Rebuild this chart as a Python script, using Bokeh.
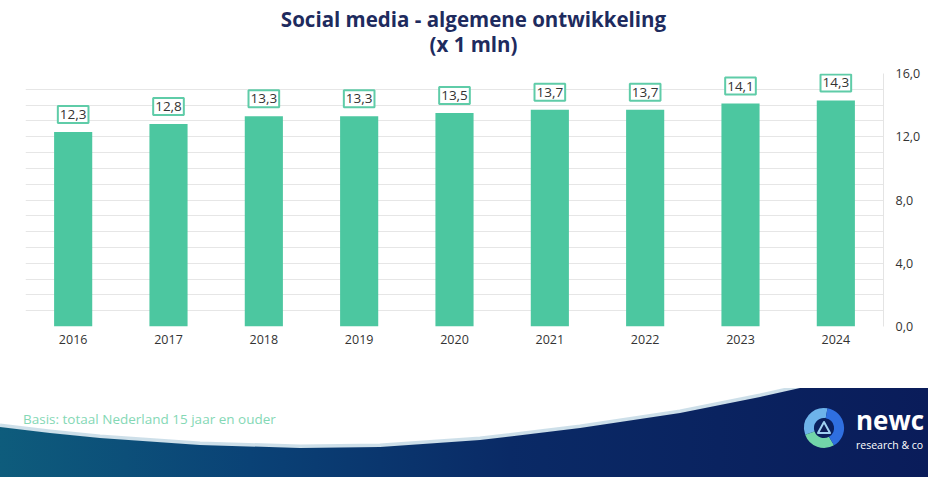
import math
from bokeh.plotting import figure
from bokeh.layouts import column
from bokeh.models import ColumnDataSource, FixedTicker, LinearAxis, Range1d, FactorRange, Div
from bokeh.core.properties import value
from bokeh.embed import file_html
from bokeh.resources import INLINE

# ---- data ----
years = ["2016", "2017", "2018", "2019", "2020", "2021", "2022", "2023", "2024"]
users_mln = [12.3, 12.8, 13.3, 13.3, 13.5, 13.7, 13.7, 14.1, 14.3]
y_ticks = [0, 4, 8, 12, 16]
y_tick_labels = ["0,0", "4,0", "8,0", "12,0", "16,0"]
title_lines = ["Social media - algemene ontwikkeling", "(x 1 mln)"]
footnote = "Basis: totaal Nederland 15 jaar en ouder"

FONT = "Open Sans"
GREEN = "#4cc7a0"
NAVY = "#1e2b5e"
W = 928
BL, BR = 25, 45  # side borders of the chart frame

# ---- header with title (frame aligned with chart frame) ----
hdr = figure(width=W, height=60, x_range=Range1d(BL, W - BR), y_range=Range1d(60, 0),
             output_backend="svg", toolbar_location=None, min_border_left=BL,
             min_border_right=BR, min_border_top=0, min_border_bottom=0,
             x_axis_location=None, y_axis_location=None)
hdr.outline_line_color = None
hdr.grid.grid_line_color = None
hdr.text(x=[473, 473], y=[18, 43], text=title_lines, text_font=value(FONT),
         text_font_size="20.5px", text_font_style="bold", text_color=NAVY,
         text_align="center", text_baseline="middle")

# ---- main chart ----
src = ColumnDataSource(dict(
    year=years, val=users_mln,
    lab=[f"{v:.1f}".replace(".", ",") for v in users_mln],
))

p = figure(width=W, height=328, x_range=FactorRange(*years, range_padding=0),
           y_range=Range1d(0, 16), output_backend="svg", toolbar_location=None,
           min_border_left=BL, min_border_right=BR, min_border_top=13,
           min_border_bottom=62, y_axis_location=None)
p.outline_line_color = None

p.xgrid.grid_line_color = None
p.ygrid.ticker = FixedTicker(ticks=list(range(0, 17)))
p.ygrid.grid_line_color = "#e6e6e6"
p.ygrid.grid_line_width = 1

p.vbar(x="year", top="val", width=0.4, source=src, color=GREEN, line_color=None)

p.text(x="year", y="val", text="lab", source=src, y_offset=-9,
       text_align="center", text_baseline="bottom",
       text_font=value(FONT), text_font_size="13.5px", text_color="#333333",
       background_fill_color="white", border_line_color="#5fcca8",
       border_line_width=2, padding=(2, 4))

ax = LinearAxis(ticker=FixedTicker(ticks=y_ticks),
                major_label_overrides={t_: l for t_, l in zip(y_ticks, y_tick_labels)})
ax.axis_line_color = "#e4e4e4"
ax.major_tick_line_color = None
ax.minor_tick_line_color = None
ax.major_tick_out = 0
ax.major_tick_in = 0
ax.major_label_standoff = 12
ax.major_label_text_font = FONT
ax.major_label_text_font_size = "12.5px"
ax.major_label_text_color = "#333333"
p.add_layout(ax, "right")

p.xaxis.axis_line_color = None
p.xaxis.major_tick_line_color = None
p.xaxis.major_tick_out = 0
p.xaxis.major_tick_in = 0
p.xaxis.major_label_standoff = 8
p.xaxis.major_label_text_font = FONT
p.xaxis.major_label_text_font_size = "12.5px"
p.xaxis.major_label_text_color = "#333333"

# ---- footer decoration (inline SVG in a Div, not aligned to the chart frame) ----
wx = [0, 50, 100, 200, 300, 380, 480, 580, 680, 760, 800, 850, 900, 928]
wy = [427, 433, 438, 445, 448, 447, 440, 428, 413, 397, 388, 378, 364, 350]
edge = " ".join(f"L{x},{y}" for x, y in zip(wx, wy))
wave_d = f"M0,480 {edge} L928,480 Z"
glow_d = "M" + " L".join(f"{x},{y - 1.5}" for x, y in zip(wx, wy))

cx, cy, r = 824, 428, 15


def arc(a0, a1):
    x0, y0 = cx + r * math.cos(math.radians(a0)), cy - r * math.sin(math.radians(a0))
    x1, y1 = cx + r * math.cos(math.radians(a1)), cy - r * math.sin(math.radians(a1))
    large = 1 if (a1 - a0) % 360 > 180 else 0
    return f"M{x0:.1f},{y0:.1f} A{r},{r} 0 {large} 0 {x1:.1f},{y1:.1f}"


logo = (
    f'<path d="{arc(80, 200)}" stroke="#6db3ea" stroke-width="10" fill="none"/>'
    f'<path d="{arc(200, 300)}" stroke="#72d5a9" stroke-width="10" fill="none"/>'
    f'<path d="{arc(300, 440)}" stroke="#2f6fe0" stroke-width="10" fill="none"/>'
    f'<polygon points="{cx},{cy - 6} {cx + 6},{cy + 5} {cx - 6},{cy + 5}" '
    f'fill="#0b1c55" stroke="#9fd0f0" stroke-width="2" stroke-linejoin="round"/>'
)

TS = "font-family:'Open Sans',sans-serif;"
svg = f'''<svg xmlns="http://www.w3.org/2000/svg" width="{W}" height="89" viewBox="0 388 {W} 89"
 style="display:block">
<defs><linearGradient id="wg" x1="0" y1="0" x2="1" y2="0">
<stop offset="0" stop-color="#0e5c7c"/><stop offset="0.27" stop-color="#0a4276"/>
<stop offset="0.55" stop-color="#0a2a66"/><stop offset="1" stop-color="#0a1c5a"/>
</linearGradient></defs>
<text x="23" y="423.5" style="{TS}font-size:13.5px;fill:#84d8b5">{footnote}</text>
<path d="{glow_d}" stroke="#b8d2e0" stroke-width="4" fill="none" opacity="0.7"/>
<path d="{wave_d}" fill="url(#wg)"/>
{logo}
<text x="856" y="430" style="{TS}font-size:26px;font-weight:bold;fill:white">newc</text>
<text x="856" y="449" style="{TS}font-size:10.5px;fill:white">research &amp; co</text>
</svg>'''

foot = Div(text=svg, width=W, height=89, margin=(0, 0, 0, 0),
           styles={"padding": "0", "margin": "0", "overflow": "hidden"})

layout = column(hdr, p, foot, spacing=0)
open("out.html", "w").write(file_html(layout, INLINE))
